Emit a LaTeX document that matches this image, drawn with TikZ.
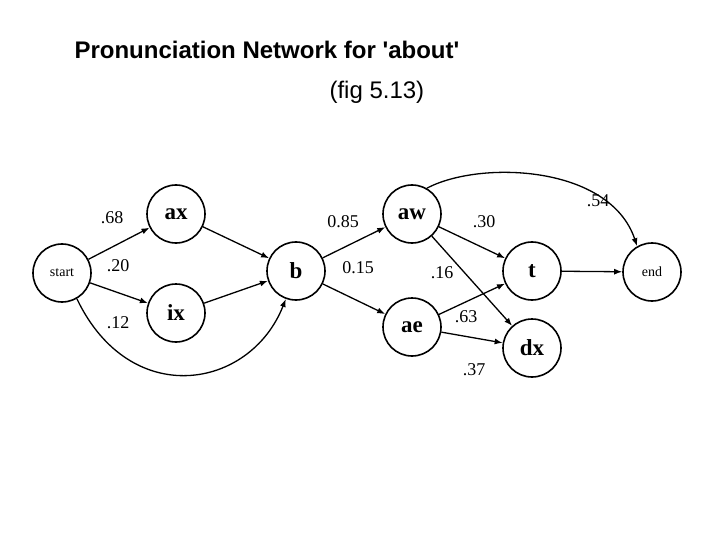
\documentclass[tikz,border=0pt]{standalone}
\usepackage{fontspec}
\setmainfont{Liberation Serif}
\newfontfamily\sans{Liberation Sans}
\usetikzlibrary{arrows.meta}
\begin{document}
\begin{tikzpicture}[x=1pt,y=-1pt,
  st/.style={circle,draw,line width=1.6pt,minimum size=58pt,inner sep=0pt},
  big/.style={st,font=\fontsize{23}{23}\selectfont\bfseries},
  sm/.style={st,minimum size=58pt,font=\fontsize{14}{14}\selectfont},
  e/.style={-{Latex[length=8pt,width=6pt]},line width=1.3pt},
  lb/.style={font=\fontsize{18}{18}\selectfont}]
\useasboundingbox (0,0) rectangle (720,540);
\node[font=\sans\fontsize{24}{24}\selectfont,anchor=west] (t1) at (71,50) {\textbf{Pronunciation Network for 'about'}};
\node[font=\sans\fontsize{24}{24}\selectfont,anchor=west] (t2) at (326,92) {(fig 5.13)};
\node[sm] (start) at (62,273) {start};
\node[big] (ax) at (176,214) {ax};
\node[big] (ix) at (176,313) {ix};
\node[big] (b) at (296,271) {b};
\node[big] (aw) at (412,214) {aw};
\node[big] (ae) at (412,327) {ae};
\node[big] (t) at (532,271) {t};
\node[big] (dx) at (532,348) {dx};
\node[sm] (end) at (652,272) {end};
\draw[e] (start) -- (ax);
\draw[e] (start) -- (ix);
\draw[e] (start.-60) .. controls (130,410) and (250,390) .. (b.-110);
\draw[e] (ax) -- (b);
\draw[e] (ix) -- (b);
\draw[e] (b) -- (aw);
\draw[e] (b) -- (ae);
\draw[e] (aw) -- (t);
\draw[e] (aw) -- (dx);
\draw[e] (ae) -- (t);
\draw[e] (ae) -- (dx);
\draw[e] (t) -- (end);
\draw[e] (aw.60) .. controls (480,160) and (610,165) .. (end.120);
\node[lb] (l1) at (112,218) {.68};
\node[lb] (l2) at (118,266) {.20};
\node[lb] (l3) at (118,323) {.12};
\node[lb] (l4) at (343,222) {0.85};
\node[lb] (l5) at (358,268) {0.15};
\node[lb] (l6) at (484,222) {.30};
\node[lb] (l7) at (442,273) {.16};
\node[lb] (l8) at (466,317) {.63};
\node[lb] (l9) at (474,370) {.37};
\node[lb] (l10) at (598,201) {.54};
\end{tikzpicture}
\end{document}
